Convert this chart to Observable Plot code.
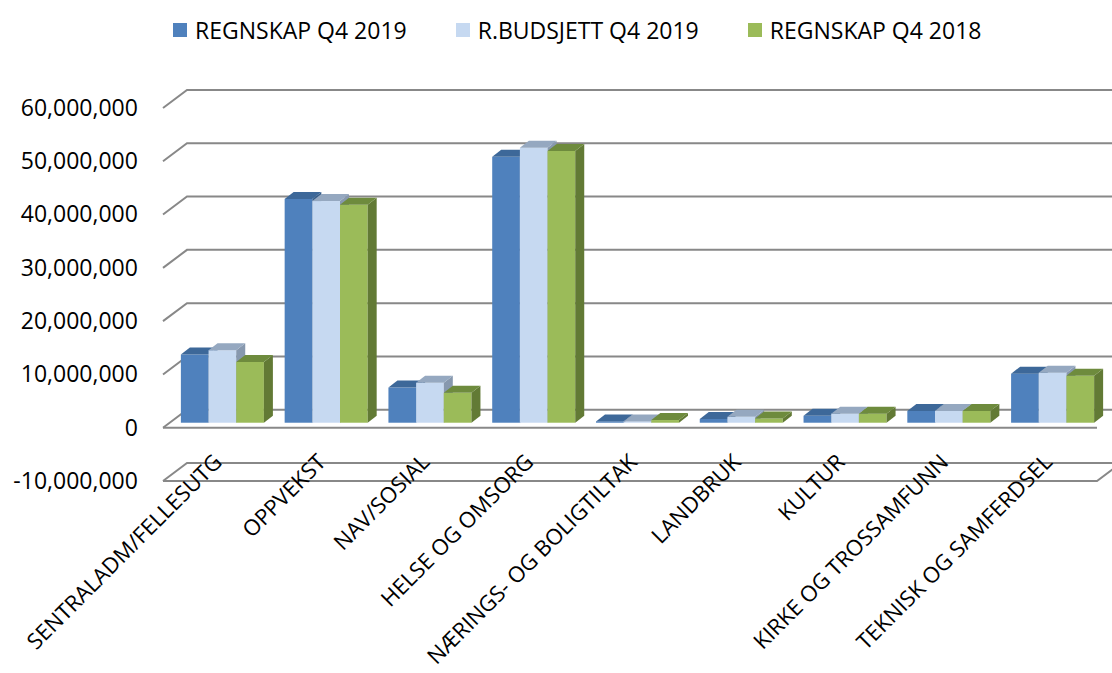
<!DOCTYPE html>
<html>
<head>
<meta charset="utf-8">
<script src="https://cdn.jsdelivr.net/npm/d3@7"></script>
<script src="https://cdn.jsdelivr.net/npm/@observablehq/plot@0.6"></script>
<style>
  html, body { margin: 0; padding: 0; background: #fff; }
  body { width: 1112px; height: 673px; overflow: hidden; font-family: 'Open Sans', sans-serif; }
  #legend { height: 56px; box-sizing: border-box; padding-left: 173px; display: flex; align-items: center; font-size: 23px; color: #000; padding-top: 4px; }
  .item { display: flex; align-items: center; margin-right: 49px; }
  .sw { width: 14px; height: 14px; margin-right: 8px; }
  #chart svg { display: block; }
</style>
</head>
<body>
<div id="legend"></div>
<div id="chart"></div>
<script>
// ---- data ----
const categories = [
  "SENTRALADM/FELLESUTG", "OPPVEKST", "NAV/SOSIAL", "HELSE OG OMSORG",
  "NÆRINGS- OG BOLIGTILTAK", "LANDBRUK", "KULTUR", "KIRKE OG TROSSAMFUNN",
  "TEKNISK OG SAMFERDSEL"
];
const seriesNames = ["REGNSKAP Q4 2019", "R.BUDSJETT Q4 2019", "REGNSKAP Q4 2018"];
const regnskap2019 = [12800000, 42000000, 6600000, 49900000, 250000, 700000, 1300000, 2200000, 9200000];
const budsjett2019 = [13600000, 41600000, 7500000, 51600000, 250000, 1100000, 1700000, 2200000, 9400000];
const regnskap2018 = [11400000, 40900000, 5600000, 51000000, 500000, 800000, 1700000, 2200000, 8800000];
const yTicks = [-10000000, 0, 10000000, 20000000, 30000000, 40000000, 50000000, 60000000];
const colors = ["#4F81BD", "#C6D9F1", "#9BBB59"];
const topColors = ["#3D6899", "#95A8C0", "#6E8B3D"];
const sideColors = ["#365D8A", "#8798AE", "#627A35"];

const seriesValues = [regnskap2019, budsjett2019, regnskap2018];
const rows = [];
categories.forEach((c, i) => seriesNames.forEach((s, j) => rows.push({cat: c, series: s, value: seriesValues[j][i], si: j})));

// ---- legend ----
const legend = document.getElementById("legend");
seriesNames.forEach((s, j) => {
  const it = document.createElement("div"); it.className = "item";
  const sw = document.createElement("div"); sw.className = "sw"; sw.style.background = colors[j];
  const tx = document.createElement("span"); tx.textContent = s;
  it.append(sw, tx); legend.append(it);
});

const fmt = d => d3.format(",")(d).replace("\u2212", "-");

const chart = Plot.plot({
  width: 1112, height: 617,
  marginLeft: 163, marginRight: 15, marginTop: 52, marginBottom: 192,
  style: {fontFamily: "'Open Sans', sans-serif", fontSize: "23px", color: "#000", background: "white", overflow: "visible"},
  fx: {domain: categories, paddingInner: 0.2, paddingOuter: 0.1, round: false, axis: null, label: null},
  x: {domain: seriesNames, padding: 0, round: false, axis: null},
  y: {domain: [-10000000, 60000000], ticks: yTicks, tickFormat: fmt, tickSize: 0, tickPadding: 36, label: null},
  color: {domain: seriesNames, range: colors},
  marks: [
    Plot.barY(rows, {fx: "cat", x: "series", y: "value", fill: "series", dx: 7.5, dy: -5}),
    Plot.text(categories, {fx: d => d, text: d => d, frameAnchor: "bottom", rotate: -45, textAnchor: "end", dx: 8, dy: -18, fontSize: 22, fill: "#000"})
  ]
});
document.getElementById("chart").append(chart);

// ---- perspective walls / gridlines from the library's scales ----
const ys = chart.scale("y"), fxs = chart.scale("fx");
const X0 = fxs.range[0], X1 = fxs.range[1];
const DX = 24, DY = -18;
const ns = "http://www.w3.org/2000/svg";
const grid = document.createElementNS(ns, "g");
grid.setAttribute("fill", "none");
grid.setAttribute("stroke", "#888888");
grid.setAttribute("stroke-width", "2");
yTicks.forEach(t => {
  const yy = ys.apply(t);
  const p = document.createElementNS(ns, "path");
  p.setAttribute("d", `M${X0},${yy}L${X0 + DX},${yy + DY}L${1120},${yy + DY}`);
  grid.append(p);
  if (t <= 0) {
    const f = document.createElementNS(ns, "path");
    f.setAttribute("d", t < 0 ? `M${X0},${yy}L${X1},${yy}L${X1 + DX},${yy + DY}` : `M${X0},${yy}L${X1},${yy}`);
    grid.append(f);
  }
});
chart.insertBefore(grid, chart.firstChild);

// ---- 3D top and side faces derived from each rendered bar ----
const BX = 9, BY = -7;
chart.querySelectorAll('g[aria-label="bar"] rect').forEach(rect => {
  const x = +rect.getAttribute("x"), y = +rect.getAttribute("y");
  const w = +rect.getAttribute("width"), h = +rect.getAttribute("height");
  const fill = (rect.getAttribute("fill") || "").toLowerCase();
  const j = colors.findIndex(c => c.toLowerCase() === fill);
  const side = document.createElementNS(ns, "polygon");
  side.setAttribute("points", `${x + w},${y} ${x + w + BX},${y + BY} ${x + w + BX},${y + h + BY} ${x + w},${y + h}`);
  side.setAttribute("fill", sideColors[j < 0 ? 0 : j]);
  const top = document.createElementNS(ns, "polygon");
  top.setAttribute("points", `${x},${y} ${x + BX},${y + BY} ${x + w + BX},${y + BY} ${x + w},${y}`);
  top.setAttribute("fill", topColors[j < 0 ? 0 : j]);
  rect.after(side);
  side.after(top);
});
</script>
</body>
</html>
